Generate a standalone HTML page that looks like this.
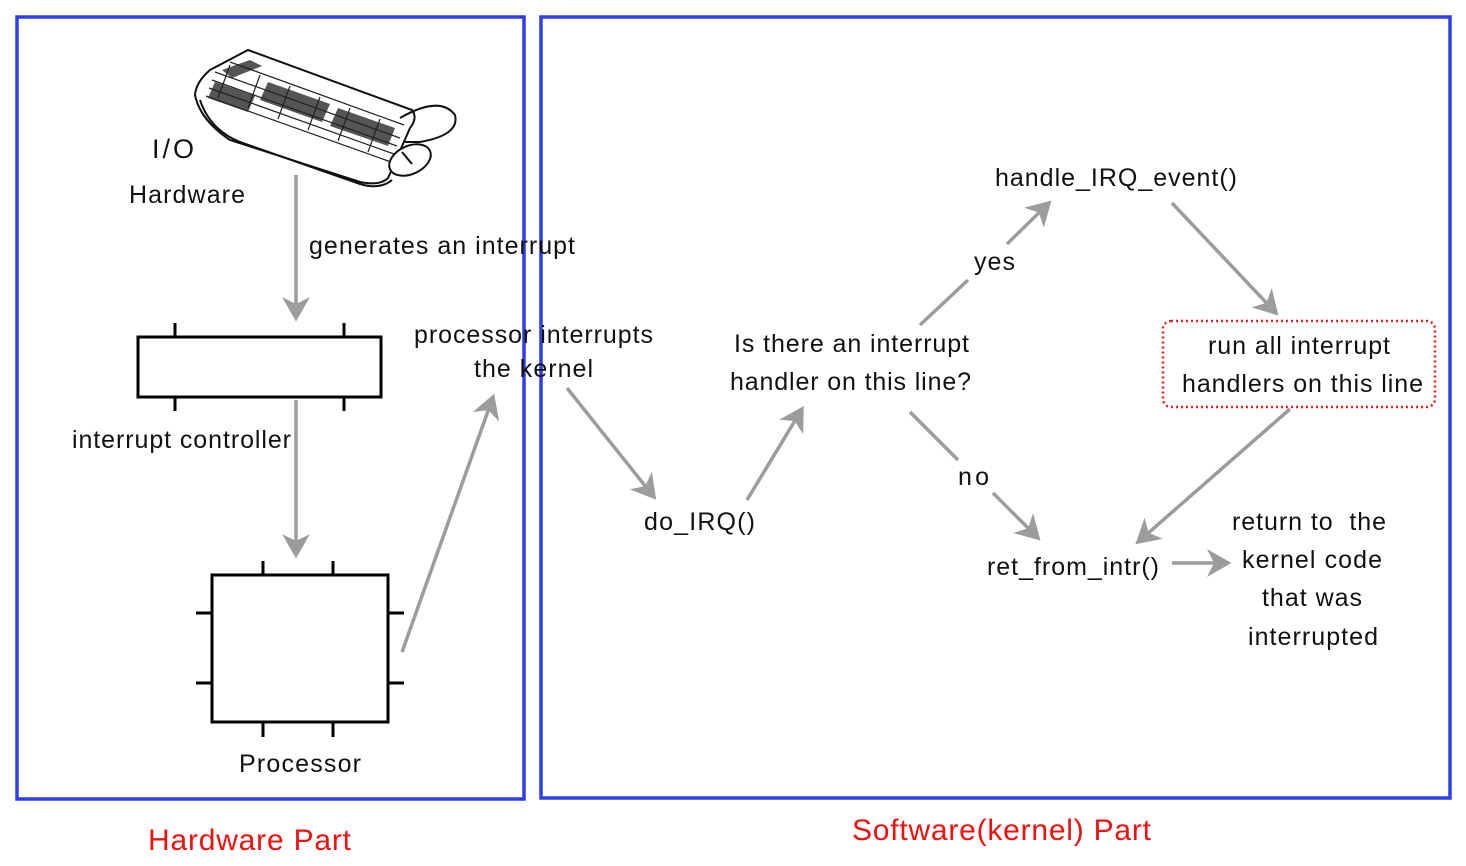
<!DOCTYPE html>
<html><head><meta charset="utf-8"><style>
html,body{margin:0;padding:0;background:#fff;}
svg{display:block}
text{font-family:"Liberation Sans",Arial,sans-serif;font-size:25px;fill:#111}
</style></head><body>
<svg width="1466" height="866" viewBox="0 0 1466 866" xmlns="http://www.w3.org/2000/svg">
<defs>
<marker id="a" markerWidth="8" markerHeight="8" refX="6" refY="4" orient="auto" markerUnits="strokeWidth">
<path d="M0,0 L7,4 L0,8 L2,4 Z" fill="#9c9c9c"/></marker>
</defs>
<rect x="17" y="17" width="507" height="782" fill="none" stroke="#2f3cf0" stroke-width="3.5"/>
<rect x="541" y="17" width="909" height="781" fill="none" stroke="#2f3cf0" stroke-width="3.5"/>

<!-- keyboard -->
<g stroke="#111" stroke-width="2" fill="#fff">
<path d="M248,50 L412,110 Q418,118 410,128 L388,178 Q380,186 360,182 L230,140 Q200,120 195,95 Q196,82 210,70 Z"/>
<path d="M200,100 Q210,130 240,142 L360,184 Q380,190 392,180" fill="none"/>
<path d="M400,118 Q440,95 455,115 Q460,135 420,142 L405,142" fill="none"/>
<ellipse cx="410" cy="160" rx="22" ry="14" transform="rotate(-25 410 160)"/>
<line x1="402" y1="152" x2="412" y2="164"/>
</g>
<g fill="#555" stroke="none">
<path d="M222,70 L250,60 L262,66 L232,78 Z"/>
<path d="M268,82 L330,104 L322,122 L260,100 Z"/>
<path d="M338,108 L395,128 L388,146 L330,126 Z"/>
<path d="M215,82 L255,96 L248,112 L208,98 Z"/>
</g>
<g stroke="#222" stroke-width="1.2">
<path d="M215,72 L400,138 M212,80 L397,146 M209,88 L394,154 M206,96 L391,162 M230,62 L404,125" />
<path d="M230,65 L218,98 M260,75 L248,108 M290,86 L278,119 M320,97 L308,130 M350,108 L338,141 M380,119 L368,152" />
</g>

<text x="152" y="158" style="font-size:27px" textLength="42">I/O</text>
<text x="129" y="203" textLength="116">Hardware</text>

<g stroke="#9c9c9c" stroke-width="3.5" fill="none" marker-end="url(#a)">
<line x1="296" y1="175" x2="296" y2="318"/>
<line x1="296" y1="400" x2="296" y2="555"/>
<line x1="402" y1="652" x2="493" y2="397"/>
<line x1="567" y1="388" x2="654" y2="497"/>
<line x1="747" y1="500" x2="802" y2="409"/>
<line x1="1007" y1="244" x2="1049" y2="203"/>
<line x1="1172" y1="203" x2="1276" y2="313"/>
<line x1="1290" y1="409" x2="1138" y2="542"/>
<line x1="993" y1="493" x2="1038" y2="538"/>
<line x1="1172" y1="563" x2="1228" y2="563"/>
</g>
<g stroke="#9c9c9c" stroke-width="3.5">
<line x1="920" y1="325" x2="968" y2="280"/>
<line x1="910" y1="412" x2="958" y2="460"/>
</g>

<text x="309" y="254" textLength="266">generates an interrupt</text>

<g stroke="#000" stroke-width="3" fill="none">
<rect x="138" y="337" width="243" height="60" fill="#fff"/>
<line x1="175" y1="323" x2="175" y2="337"/><line x1="344" y1="323" x2="344" y2="337"/>
<line x1="175" y1="397" x2="175" y2="411"/><line x1="344" y1="397" x2="344" y2="411"/>
<rect x="212" y="575" width="176" height="147" fill="#fff"/>
<line x1="263" y1="561" x2="263" y2="575"/><line x1="333" y1="561" x2="333" y2="575"/>
<line x1="263" y1="722" x2="263" y2="737"/><line x1="333" y1="722" x2="333" y2="737"/>
<line x1="196" y1="613" x2="212" y2="613"/><line x1="196" y1="683" x2="212" y2="683"/>
<line x1="388" y1="613" x2="404" y2="613"/><line x1="388" y1="683" x2="404" y2="683"/>
</g>

<text x="72" y="448" textLength="219">interrupt controller</text>
<text x="239" y="772" textLength="122">Processor</text>
<text x="414" y="343" textLength="239">processor interrupts</text>
<text x="474" y="377" textLength="119">the kernel</text>
<text x="644" y="530" textLength="111">do_IRQ()</text>
<text x="734" y="352" textLength="235">Is there an interrupt</text>
<text x="730" y="390" textLength="241">handler on this line?</text>
<text x="974" y="270" textLength="41">yes</text>
<text x="995" y="186" textLength="242">handle_IRQ_event()</text>
<rect x="1163" y="321" width="272" height="86" rx="8" fill="none" stroke="#e02020" stroke-width="2.5" stroke-dasharray="2,3"/>
<text x="1208" y="354" textLength="182">run all interrupt</text>
<text x="1182" y="392" textLength="241">handlers on this line</text>
<text x="958" y="485" textLength="31">no</text>
<text x="987" y="575" textLength="172">ret_from_intr()</text>
<text x="1232" y="530" textLength="154" xml:space="preserve">return to  the</text>
<text x="1242" y="568" textLength="140">kernel code</text>
<text x="1262" y="606" textLength="100">that was</text>
<text x="1248" y="645" textLength="130">interrupted</text>

<text x="148" y="850" style="font-size:30px;fill:#f01010" textLength="203">Hardware Part</text>
<text x="852" y="840" style="font-size:30px;fill:#f01010" textLength="299">Software(kernel) Part</text>
</svg>
</body></html>
